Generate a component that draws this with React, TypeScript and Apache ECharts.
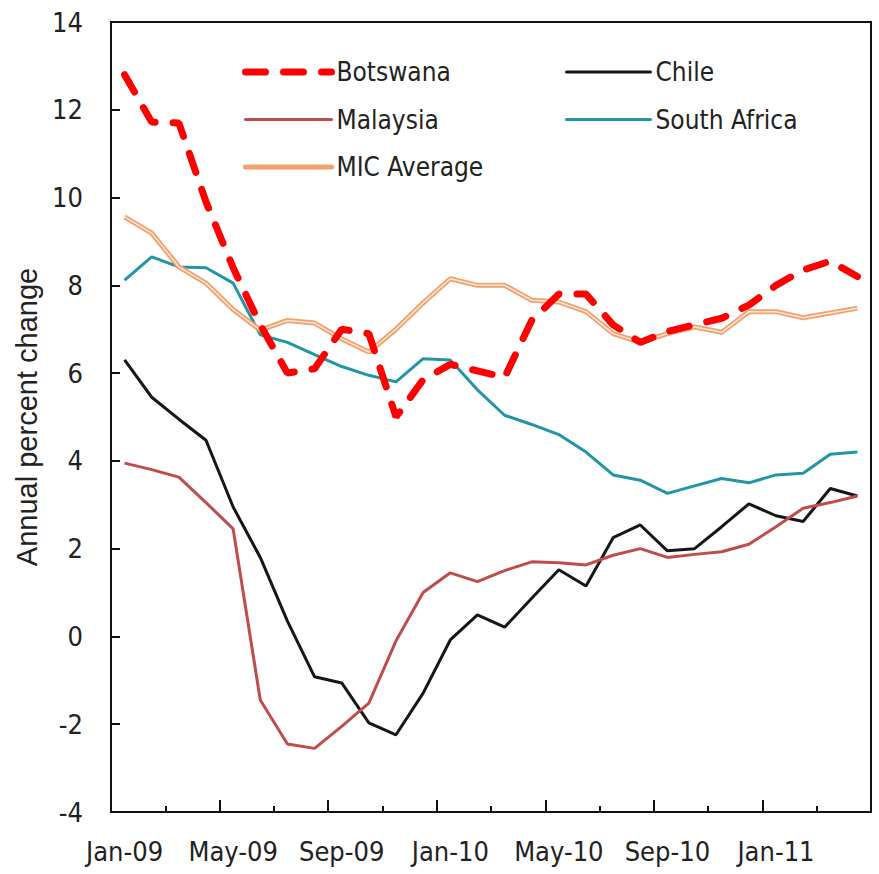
import React, { useEffect, useRef } from "react";
import * as echarts from "echarts";

const months = [
  "Jan-09","Feb-09","Mar-09","Apr-09","May-09","Jun-09","Jul-09","Aug-09","Sep-09","Oct-09","Nov-09","Dec-09",
  "Jan-10","Feb-10","Mar-10","Apr-10","May-10","Jun-10","Jul-10","Aug-10","Sep-10","Oct-10","Nov-10","Dec-10",
  "Jan-11","Feb-11","Mar-11","Apr-11",
];

const botswana = [12.8, 11.72, 11.7, 9.9, 8.4, 7.1, 6.0, 6.1, 7.0, 6.9, 5.0, 5.85, 6.2, 6.05, 5.9, 7.2, 7.8, 7.8, 7.1, 6.7, 6.95, 7.1, 7.25, 7.55, 8.0, 8.35, 8.55, 8.2];
const chile = [6.3, 5.45, 4.95, 4.47, 2.95, 1.8, 0.35, -0.92, -1.06, -1.97, -2.24, -1.29, -0.08, 0.49, 0.21, 0.87, 1.52, 1.15, 2.25, 2.54, 1.95, 2.0, 2.5, 3.02, 2.75, 2.62, 3.37, 3.2];
const malaysia = [3.95, 3.8, 3.63, 3.05, 2.45, -1.45, -2.45, -2.55, -2.05, -1.52, -0.1, 1.0, 1.45, 1.25, 1.5, 1.7, 1.68, 1.63, 1.85, 2.0, 1.8, 1.87, 1.93, 2.1, 2.5, 2.92, 3.05, 3.2];
const southAfrica = [8.12, 8.65, 8.42, 8.4, 8.05, 6.87, 6.7, 6.42, 6.15, 5.95, 5.8, 6.33, 6.3, 5.62, 5.04, 4.83, 4.6, 4.2, 3.68, 3.56, 3.26, 3.43, 3.6, 3.5, 3.68, 3.72, 4.15, 4.2];
const micAverage = [9.56, 9.19, 8.42, 8.05, 7.45, 6.98, 7.2, 7.14, 6.78, 6.48, 7.0, 7.6, 8.15, 8.0, 8.0, 7.66, 7.62, 7.4, 6.9, 6.7, 6.9, 7.05, 6.93, 7.4, 7.4, 7.26, 7.37, 7.48];

const yMin = -4;
const yMax = 14;
const yStep = 2;
const yTitle = "Annual percent change";

const NARROW = "'Liberation Sans Narrow', 'Arial Narrow', 'DejaVu Sans Condensed', sans-serif";
const TEXT = "#222";

export default function App() {
  const ref = useRef<HTMLDivElement>(null);
  useEffect(() => {
    if (!ref.current) return;
    const chart = echarts.init(ref.current, null, { renderer: "svg" });
    const legendText = { fontFamily: NARROW, fontSize: 26, color: TEXT, lineHeight: 34 };
    const legendCommon = {
      orient: "vertical", top: 55, padding: 0,
      itemHeight: 14, itemGap: 13.5,
      itemStyle: { opacity: 0 },
      lineStyle: { width: "inherit", type: "inherit", cap: "round" },
      textStyle: legendText,
      selectedMode: false,
    };
    chart.setOption({
      animation: false,
      backgroundColor: "#fff",
      grid: {
        left: 111, top: 22, right: 8, bottom: 62,
        show: true, borderColor: "#111", borderWidth: 2, backgroundColor: "transparent",
      },
      legend: [
        { ...legendCommon, data: ["Botswana", "Malaysia", "MIC Average"], left: 242, itemWidth: 86 },
        { ...legendCommon, data: ["Chile", "South Africa"], left: 565, itemWidth: 84 },
      ],
      xAxis: [
        {
          type: "category", data: months, boundaryGap: true,
          axisLine: { show: true, onZero: false, lineStyle: { color: "#111", width: 2 } },
          axisTick: { show: true, inside: true, length: 12, interval: 3, lineStyle: { color: "#111", width: 2 } },
          axisLabel: { interval: 3, margin: 26, fontFamily: NARROW, fontSize: 27, color: TEXT },
          splitLine: { show: false },
        },
        {
          type: "category", data: months, boundaryGap: true, position: "bottom",
          axisLine: { show: false, onZero: false },
          axisTick: { show: true, inside: true, length: 6, interval: 1, lineStyle: { color: "#111", width: 2 } },
          axisLabel: { show: false },
          splitLine: { show: false },
        },
      ],
      yAxis: {
        type: "value", min: yMin, max: yMax, interval: yStep,
        name: yTitle, nameLocation: "middle", nameRotate: 90, nameGap: 67,
        nameTextStyle: { fontFamily: "'Liberation Sans', Arial, sans-serif", fontSize: 29, color: TEXT },
        axisLine: { show: true, lineStyle: { color: "#111", width: 2 } },
        axisTick: { show: true, inside: true, length: 9, lineStyle: { color: "#111", width: 2 } },
        axisLabel: { margin: 28, fontFamily: NARROW, fontSize: 27, color: TEXT },
        splitLine: { show: false },
      },
      series: [
        {
          name: "Chile", type: "line", data: chile, symbol: "none",
          lineStyle: { color: "#161616", width: 3 }, itemStyle: { color: "#161616" },
        },
        {
          name: "Malaysia", type: "line", data: malaysia, symbol: "none",
          lineStyle: { color: "#bf4d4b", width: 3 }, itemStyle: { color: "#bf4d4b" },
        },
        {
          name: "South Africa", type: "line", data: southAfrica, symbol: "none",
          lineStyle: { color: "#2295a7", width: 3 }, itemStyle: { color: "#2295a7" },
        },
        {
          name: "MIC Average", type: "line", data: micAverage, symbol: "none",
          lineStyle: { color: "#f2a06c", width: 5 }, itemStyle: { color: "#f2a06c" },
        },
        {
          name: "MIC Average (inner)", type: "line", data: micAverage, symbol: "none",
          lineStyle: { color: "#fde7d8", width: 1.5 }, itemStyle: { color: "#fde7d8" },
          silent: true,
        },
        {
          name: "Botswana", type: "line", data: botswana, symbol: "none",
          lineStyle: { color: "#ff0000", width: 7, type: [20, 18], cap: "round" },
          itemStyle: { color: "#ff0000" },
        },
      ],
    });
    return () => chart.dispose();
  }, []);
  return (
    <div
      ref={ref}
      style={{ position: "fixed", left: 0, top: 0, width: 879, height: 874 }}
    />
  );
}
